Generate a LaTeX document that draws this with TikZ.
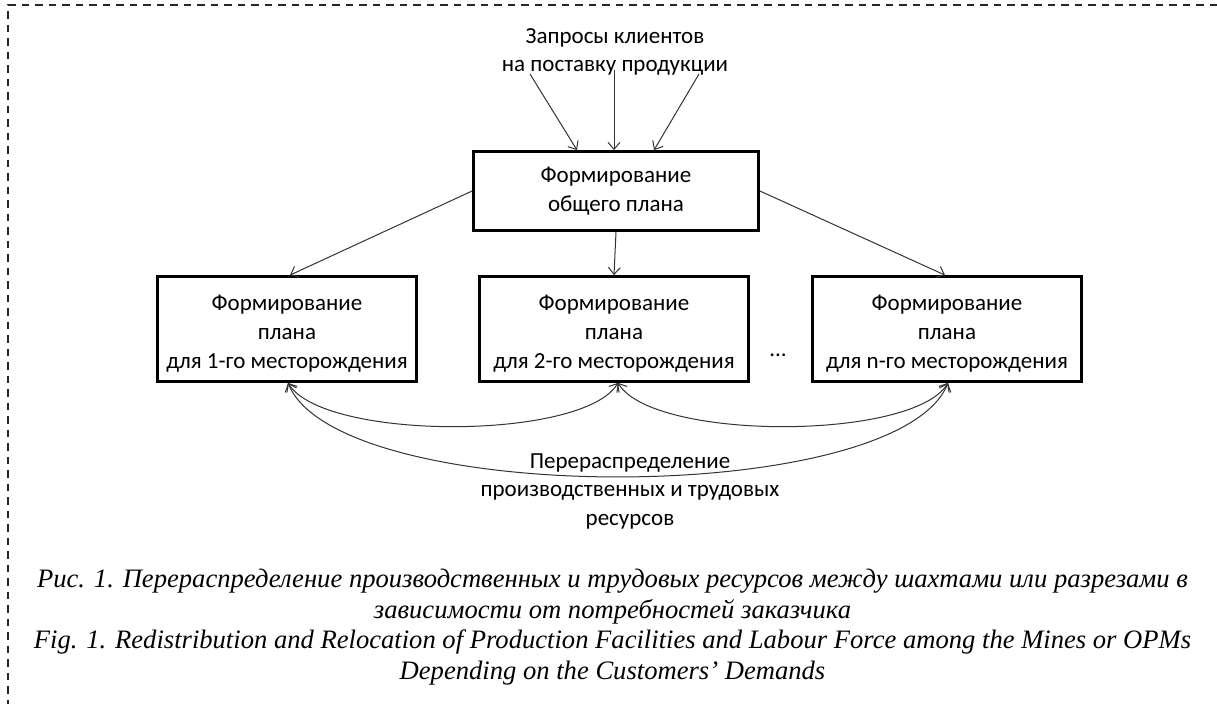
\documentclass[tikz,border=0pt]{standalone}
\usepackage{fontspec}
\setmainfont{Carlito}
\newfontfamily\capfont{Liberation Serif}
\usetikzlibrary{arrows.meta}
\begin{document}
\begin{tikzpicture}[x=1pt,y=-1pt,
  box/.style={draw, line width=2.8pt, align=center, inner sep=0pt,
    font=\fontsize{23}{29}\selectfont},
  txt/.style={align=center, inner sep=0pt, font=\fontsize{23}{28.5}\selectfont},
  boxtxt/.style={align=center, inner sep=0pt, yshift=-4.5pt, font=\fontsize{23}{29}\selectfont},
  arr/.style={draw=black!80, line width=1pt, -{Straight Barb[length=7pt,width=12pt]}},
  darr/.style={draw=black!80, line width=1pt, {Straight Barb[length=7pt,width=12pt]}-{Straight Barb[length=7pt,width=12pt]}},
  frame/.style={draw=black!85, line width=2pt, dash pattern=on 7.5pt off 6pt},
  captext/.style={align=center, inner sep=0pt, font=\capfont\itshape\fontsize{26.6}{30.5}\selectfont}
]
\useasboundingbox (0,0) rectangle (1217,704);
\fill[white] (0,0) rectangle (1217,704);
\draw[frame] (1217,5) -- (8,5) -- (8,704);

\node[txt] (req) at (615,52) {Запросы клиентов\\на поставку продукции};
\coordinate (q1) at (530,74);
\coordinate (q2) at (614,70);
\coordinate (q3) at (699,74);

\node[box, minimum width=285pt, minimum height=79pt] (top) at (616,191) {Формирование\\общего плана};
\node[box, minimum width=259pt, minimum height=105pt,
  label={[boxtxt]center:{Формирование\\плана\\для 1-го месторождения}}] (b1) at (287,329) {};
\node[box, minimum width=269pt, minimum height=105pt,
  label={[boxtxt]center:{Формирование\\плана\\для 2-го месторождения}}] (b2) at (614,329) {};
\node[box, minimum width=269pt, minimum height=105pt,
  label={[boxtxt]center:{Формирование\\плана\\для n-го месторождения}}] (b3) at (947,329) {};
\node[txt] (dots) at (778,355) {...};

\draw[arr] (q1) -- ([xshift=-39pt]top.north);
\draw[arr] (q2) -- ([xshift=-2pt]top.north);
\draw[arr] (q3) -- ([xshift=38pt]top.north);

\draw[arr] (top.west) -- ([xshift=3pt]b1.north);
\draw[arr] (top.south) -- (b2.north);
\draw[arr] (top.east) -- ([xshift=-2pt]b3.north);

\draw[darr] ([xshift=1pt]b1.south) .. controls +(35,58) and +(-35,58) .. ([xshift=4pt]b2.south);
\draw[darr] ([xshift=4pt]b2.south) .. controls +(35,58) and +(-35,58) .. ([xshift=1pt]b3.south);
\draw[darr] ([xshift=1pt]b1.south) .. controls +(50,125) and +(-50,125) .. ([xshift=1pt]b3.south);

\node[txt] (lab) at (630,491) {Перераспределение\\производственных и трудовых\\ресурсов};

\node[captext] (caption) at (612.5,627) {Рис. 1. Перераспределение производственных и трудовых ресурсов между шахтами или разрезами в\\зависимости от потребностей заказчика\\Fig. 1. Redistribution and Relocation of Production Facilities and Labour Force among the Mines or OPMs\\Depending on the Customers’ Demands};
\end{tikzpicture}
\end{document}
